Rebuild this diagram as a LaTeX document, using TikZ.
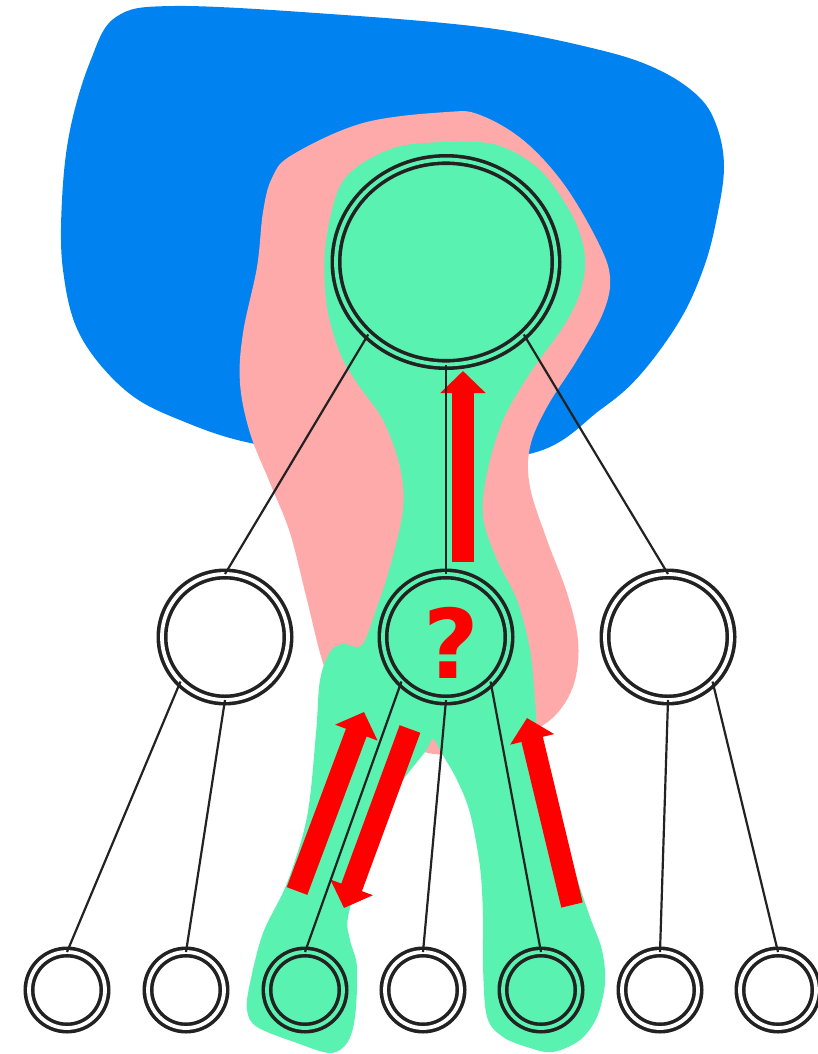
\documentclass[tikz,border=0pt]{standalone}
\usepackage{xcolor}
\usepackage{fontspec}
\setmainfont{DejaVu Sans}
\usepackage{tikz}
\usetikzlibrary{shapes,arrows.meta,positioning,calc}
\definecolor{regionblue}{RGB}{0,130,240}
\definecolor{regionpink}{RGB}{255,170,170}
\definecolor{regiongreen}{RGB}{90,242,176}
\definecolor{ink}{RGB}{34,34,34}

\begin{document}
\begin{tikzpicture}[
  x=1pt,y=-1pt,
  ring/.style={draw=ink,line width=3.6pt,double=white,double distance=3.8pt,inner sep=0pt,outer sep=0pt},
  leaf/.style={ring,circle,minimum size=76pt},
  branch/.style={ring,circle,minimum size=126pt},
  root/.style={ring,ellipse,minimum width=220pt,minimum height=205pt},
  link/.style={draw=ink,line width=2.2pt},
  push/.style={draw=red,line width=22pt,-{Triangle[width=44pt,length=22pt]}},
]
\useasboundingbox (0,0) rectangle (817,1054);

% Regions
\fill[regionblue] plot[smooth cycle,tension=0.6] coordinates {
  (116,17) (175,6) (330,14) (488,28) (600,50) (659,70) (699,97) (717,127)
  (724,167) (717,217) (704,267) (680,320) (640,375) (600,410) (533,453)
  (400,462) (260,445) (180,420) (125,390) (80,335) (63,270) (62,200)
  (70,130) (90,62)};
\fill[regionpink] plot[smooth cycle,tension=0.6] coordinates {
  (447,112) (480,115) (523,140) (563,183) (597,240) (610,277) (603,313)
  (577,360) (547,407) (530,447) (530,487) (547,540) (567,593) (578,640)
  (575,680) (560,710) (535,730) (490,748) (434,754) (390,735) (340,700)
  (323,663) (307,600) (290,533) (270,483) (250,433) (240,383) (243,333)
  (257,267) (263,212) (272,178) (292,155) (363,123)};
\fill[regiongreen] plot[smooth cycle,tension=0.55] coordinates {
  (447,142) (497,145) (540,170) (573,217) (585,257) (580,293) (563,327)
  (530,373) (503,420) (487,473) (483,517) (497,560) (517,600) (530,650)
  (535,700) (539,750) (552,800) (573,867) (590,917) (602,950) (605,983)
  (597,1017) (580,1040) (553,1052) (530,1048) (503,1037) (487,1017)
  (483,967) (483,917) (480,867) (470,813) (457,780) (441,752) (433,739)
  (425,752) (403,780) (390,805) (363,867) (348,917) (350,940) (357,967)
  (355,1017) (347,1043) (330,1053) (297,1043) (257,1027) (247,1010)
  (250,983) (263,933) (287,883) (307,817) (316,733) (320,680) (330,652)
  (343,644) (362,645) (377,607) (390,567) (403,510) (400,467) (383,420)
  (357,383) (340,353) (327,307) (325,250) (337,193) (357,167) (397,147)};

% Tree
\node[root,double=regiongreen] (root) at (446,262) {};
\node[branch] (left) at (225,637) {};
\node[branch,double=regiongreen,font=\bfseries\fontsize{96pt}{96pt}\selectfont,text=red] (mid) at (446,637) {\raisebox{-6pt}[\height][0pt]{\hspace{10pt}?}};
\node[branch] (right) at (668,637) {};
\foreach \x/\c [count=\i] in {67/white,186/white,305/regiongreen,423/white,541/regiongreen,660/white,778/white}
  \node[leaf,double=\c] (leaf\i) at (\x,990) {};

% Moves
\coordinate (rootpushtail) at (463,562);
\coordinate (rootpushtip) at (463,371);
\coordinate (leftuptail) at (297,891);
\coordinate (leftuptip) at (364,712);
\coordinate (leftdowntail) at (410,729);
\coordinate (leftdowntip) at (344,908);
\coordinate (rightuptail) at (572,905);
\coordinate (rightuptip) at (527,718);
\draw[push] (rootpushtail) -- (rootpushtip);
\draw[push] (leftuptail) -- (leftuptip);
\draw[push] (leftdowntail) -- (leftdowntip);
\draw[push] (rightuptail) -- (rightuptip);

% Edges
\draw[link] (root.south west) -- (left.north);
\draw[link] (root.south) -- (mid.north);
\draw[link] (root.south east) -- (right.north);
\draw[link] (left.south west) -- (leaf1.north);
\draw[link] (left.south) -- (leaf2.north);
\draw[link] (mid.south west) -- (leaf3.north);
\draw[link] (mid.south) -- (leaf4.north);
\draw[link] (mid.south east) -- (leaf5.north);
\draw[link] (right.south) -- (leaf6.north);
\draw[link] (right.south east) -- (leaf7.north);

\end{tikzpicture}
\end{document}
